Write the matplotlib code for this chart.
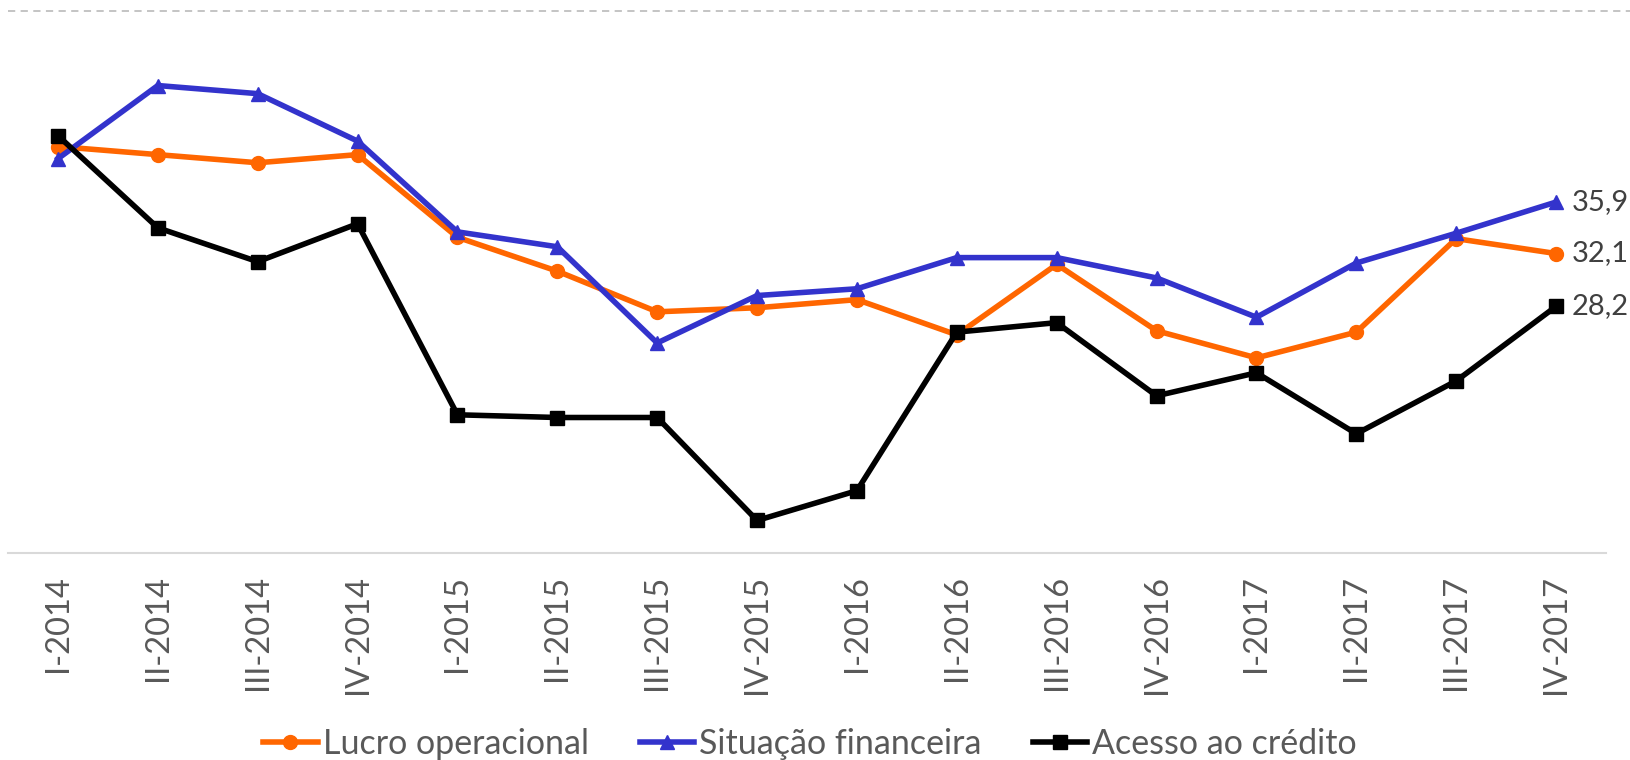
import numpy as np
import matplotlib
matplotlib.use("Agg")
import matplotlib.pyplot as plt

plt.rcParams['font.family'] = ['Lato', 'DejaVu Sans']

quarters = ['I-2014', 'II-2014', 'III-2014', 'IV-2014',
            'I-2015', 'II-2015', 'III-2015', 'IV-2015',
            'I-2016', 'II-2016', 'III-2016', 'IV-2016',
            'I-2017', 'II-2017', 'III-2017', 'IV-2017']

lucro = [40.0, 39.4, 38.8, 39.4, 33.3, 30.8, 27.8, 28.1,
         28.7, 26.1, 31.3, 26.4, 24.4, 26.3, 33.2, 32.1]
situacao = [39.1, 44.5, 43.9, 40.4, 33.7, 32.6, 25.5, 29.0,
            29.5, 31.8, 31.8, 30.3, 27.4, 31.4, 33.6, 35.9]
acesso = [40.8, 34.0, 31.5, 34.3, 20.2, 20.0, 20.0, 12.4,
          14.6, 26.3, 27.0, 21.6, 23.3, 18.8, 22.7, 28.2]

names = ['Lucro operacional', 'Situação financeira', 'Acesso ao crédito']
colors = ['#FF6600', '#3333CC', '#000000']
markers = ['o', '^', 's']

fig = plt.figure(figsize=(16.3, 7.6), dpi=100)
ax = fig.add_axes([8 / 1630, 1 - 553 / 760, 1598 / 1630, 542 / 760])

x = np.arange(len(quarters))
for vals, name, c, m in zip([lucro, situacao, acesso], names, colors, markers):
    ax.plot(x, vals, color=c, marker=m, lw=4, ms=10, label=name, zorder=3)
    # value label on last point
    ax.annotate(f'{vals[-1]:.1f}'.replace('.', ','), (x[-1], vals[-1]),
                xytext=(11, 0), textcoords='offset points',
                va='center', ha='left', fontsize=21, color='#404040',
                annotation_clip=False)

ax.set_xlim(-0.5, len(quarters) - 0.5)
ax.set_ylim(10, 50)
ax.set_yticks([])
ax.set_xticks(x)
ax.set_xticklabels(quarters, rotation=90, fontsize=23.5, color='#595959')
ax.tick_params(axis='x', length=0, pad=16)

for s in ['top', 'right', 'left']:
    ax.spines[s].set_visible(False)
ax.spines['bottom'].set_color('#D9D9D9')
ax.spines['bottom'].set_linewidth(1.5)

# top gridline (dashed)
ax.axhline(50, xmin=0, xmax=1.02, color='#BFBFBF', lw=1.3,
           ls=(0, (4, 3)), clip_on=False, zorder=1)

leg = fig.legend(loc='center', bbox_to_anchor=(0.497, 1 - 744 / 760), ncol=3,
                 frameon=False, fontsize=24.5, handlelength=1.6,
                 handletextpad=0.15, columnspacing=1.5, markerscale=1.0)
for t in leg.get_texts():
    t.set_color('#595959')

fig.savefig('out.png', dpi=100)
